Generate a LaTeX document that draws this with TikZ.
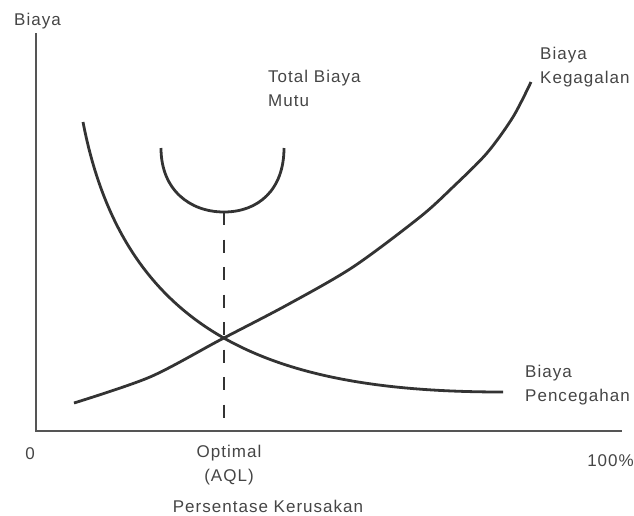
\documentclass[tikz,border=0pt]{standalone}
\usepackage{fontspec}
\setmainfont{Liberation Sans}[LetterSpace=6]
\usepackage{tikz}
\usetikzlibrary{calc}
\definecolor{curvegray}{HTML}{333333}
\definecolor{axisgray}{HTML}{555555}
\definecolor{textgray}{HTML}{454545}
\tikzstyle{costline}  = [line width=2.8pt, color=curvegray]
\tikzstyle{axisline}  = [line width=1.5pt, color=axisgray]
\tikzstyle{dashline}  = [line width=2.8pt, color=curvegray, dash pattern=on 13pt off 14.5pt]
\tikzstyle{lbl}       = [text=textgray, inner sep=0pt, anchor=base west, align=left,
                         font=\fontsize{17}{23.5}\selectfont]

\begin{document}
\begin{tikzpicture}[x=1pt,y=-1pt]
  \useasboundingbox (0,0) rectangle (634,515);

  %put the axes
  \coordinate (o) at (36,431);
  \coordinate (ytop) at (36,33);
  \coordinate (xend) at (622,431);
  \draw[axisline] (ytop) -- (o) -- (xend);

  %optimal point and its drop line
  \coordinate (opt) at (224,212);
  \coordinate (optx) at (224,431);
  \draw[dashline] (opt) -- (optx);

  %cost curves
  \draw[costline] (83,122) .. controls (125,340) and (280,392) .. (503,392);
  \draw[costline] plot[smooth] coordinates {(74,403) (150,377) (220,340) (287,305)
    (353,267) (420,217) (453,187) (487,153) (513,117) (531,82)};
  \draw[costline] (161,148) .. controls (161,190) and (190,212) .. (opt)
    .. controls (258,212) and (284,190) .. (284,148);

  %labels (base of a two line label is its last line)
  \node[lbl] (ylab) at (14,25) {Biaya};
  \node[lbl] (total) at (268,106) {Total Biaya\\Mutu};
  \node[lbl] (gagal) at (540,83) {Biaya\\Kegagalan};
  \node[lbl] (cegah) at (525,401) {Biaya\\Pencegahan};
  \node[lbl, anchor=base] (zero) at (30,459) {0};
  \node[lbl, anchor=base east] (full) at (634,466) {100\%};
  \node[lbl, anchor=base, align=center] (optlab) at (229,481) {Optimal\\(AQL)};
  \node[lbl, anchor=base] (xlab) at (268,512) {Persentase Kerusakan};
\end{tikzpicture}
\end{document}
